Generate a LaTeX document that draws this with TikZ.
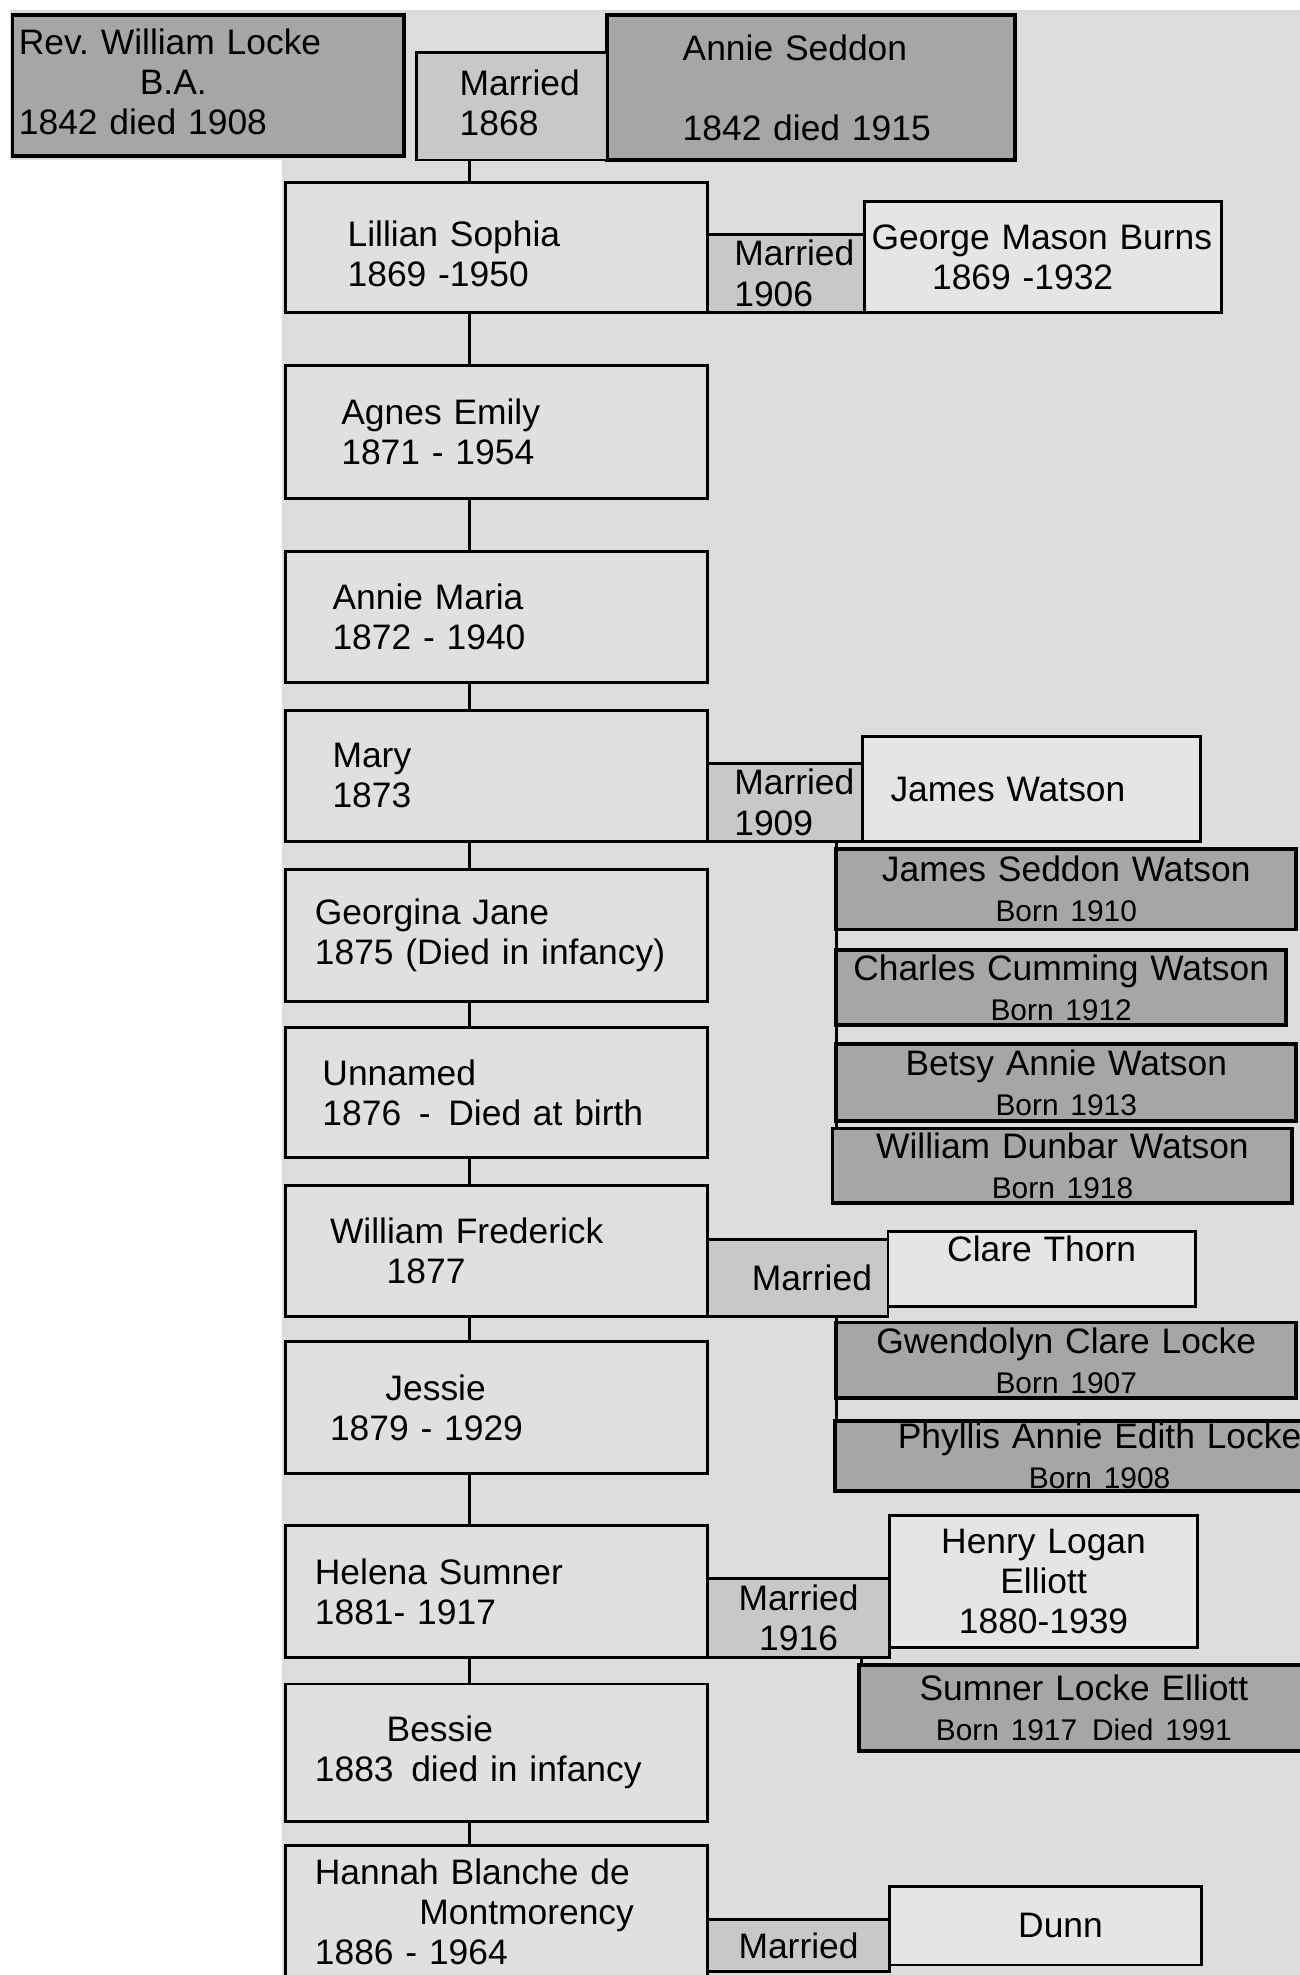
\documentclass[tikz,border=0pt]{standalone}
\usepackage{fontspec}
\setmainfont{Liberation Sans}
\usetikzlibrary{positioning}

\definecolor{paper}{HTML}{DCDCDC}
\definecolor{kidfill}{HTML}{E0E0E0}
\definecolor{spousefill}{HTML}{E5E5E5}
\definecolor{darkdot}{HTML}{A6A6A6}
\definecolor{lightdot}{HTML}{C8C8C8}

\newlength\pxunit
\setlength\pxunit{0.02cm}
\newcommand\lpad[1]{\hspace*{#1\pxunit}}
\newcommand\bornline[1]{{\fontsize{13.5}{15}\selectfont #1}}

\begin{document}
\begin{tikzpicture}[x=0.02cm, y=-0.02cm,
    box/.style={draw, line width=1.3pt, outer sep=0pt, inner xsep=0pt, inner ysep=0pt,
        anchor=north west, align=left, font=\fontsize{16}{18.1}\selectfont},
    wd/.style={text width=#1\pxunit},
    ht/.style={minimum height=#1\pxunit},
    kid/.style={box, fill=kidfill, wd=335},
    spouse/.style={box, fill=spousefill},
    married/.style={box, fill=lightdot},
    elder/.style={box, fill=darkdot, line width=1.7pt},
    grandkid/.style={box, fill=darkdot, line width=1.7pt, align=center},
    link/.style={line width=1.3pt}]
    \useasboundingbox (0,0) rectangle (1032,1568);
    % grey card behind the chart
    \fill[paper] (8,8) -- (1032,8) -- (1032,1568) -- (224,1568) -- (224,127) -- (8,127) -- cycle;

    % Parents
    \node[elder, wd=311, ht=112] (william) at (10,12)
        {\lpad{5}Rev.\ William Locke\\\lpad{101}B.A.\\\lpad{5}1842 died 1908\rule[-7\pxunit]{0pt}{7\pxunit}};
    \node[elder, wd=324, ht=115] (annie) at (482,12)
        {\lpad{60}Annie Seddon\\[32\pxunit]\lpad{60}1842 died 1915};
    \node[married, wd=151, ht=85, anchor=south east] (m1868) at (annie.south west)
        {\lpad{34}Married\\\lpad{34}1868\rule[-6\pxunit]{0pt}{6\pxunit}};

    % Children
    \node[kid, ht=103] (lillian) at (227,145)
        {\lpad{49}\rule{0pt}{31\pxunit}Lillian Sophia\\\lpad{49}1869 -1950};
    \node[kid, ht=106, below=0.84cm of lillian] (agnes) {\lpad{44}Agnes Emily\\\lpad{44}1871 - 1954};
    \node[kid, ht=104, below=0.84cm of agnes] (anniem) {\lpad{37}Annie Maria\\\lpad{37}1872 - 1940};
    \node[kid, ht=104, below=0.44cm of anniem] (mary) {\lpad{37}Mary\\\lpad{37}1873};
    \node[kid, ht=105, below=0.44cm of mary] (georgina) {\lpad{23}Georgina Jane\\\lpad{23}1875 (Died in infancy)};
    \node[kid, ht=103, below=0.42cm of georgina] (unnamed) {\lpad{29}Unnamed\\\lpad{29}1876\enspace-\enspace Died at birth};
    \node[kid, ht=104, below=0.44cm of unnamed] (wfred) {\lpad{35}William Frederick\\\lpad{80}1877};
    \node[kid, ht=105, below=0.40cm of wfred] (jessie) {\lpad{79}Jessie\\\lpad{35}1879 - 1929};
    \node[kid, ht=105, below=0.82cm of jessie] (helena) {\lpad{23}Helena Sumner\\\lpad{23}1881- 1917};
    \node[kid, ht=109, below=0.42cm of helena] (bessie) {\lpad{80}Bessie\\\lpad{23}1883\enspace died in infancy};
    \node[kid, ht=106, below=0.38cm of bessie] (hannah)
        {\lpad{23}Hannah Blanche de\\\lpad{106}Montmorency\\\lpad{23}1886 - 1964};

    \coordinate (spine) at (373,0);
    \foreach \a/\b in {m1868/lillian, lillian/agnes, agnes/anniem, anniem/mary, mary/georgina,
        georgina/unnamed, unnamed/wfred, wfred/jessie, jessie/helena, helena/bessie, bessie/hannah}
        \draw[link] (\a.south -| spine) -- (\b.north -| spine);

    % Lillian
    \node[married, wd=124, ht=62, anchor=south west] (m1906) at (lillian.south east) {\lpad{21}Married\\\lpad{21}1906};
    \node[spouse, wd=284, ht=88, anchor=south west] (george) at (m1906.south east)
        {\lpad{6}George Mason Burns\\\lpad{54}1869 -1932};

    % Mary
    \node[married, wd=123, ht=62, anchor=south west] (m1909) at (mary.south east) {\lpad{21}Married\\\lpad{21}1909};
    \node[spouse, wd=268, ht=83, anchor=south west] (jwatson) at (m1909.south east) {\lpad{22}James Watson};
    \node[grandkid, wd=365, ht=64] (jsw) at (664,674) {James Seddon Watson\\\bornline{Born 1910}};
    \node[grandkid, wd=357, ht=60] (ccw) at (664,754) {Charles Cumming Watson\\\bornline{Born 1912}};
    \node[grandkid, wd=365, ht=61] (baw) at (664,829) {Betsy Annie Watson\\\bornline{Born 1913}};
    \node[grandkid, wd=365, ht=59] (wdw) at (661,896) {William Dunbar Watson\\\bornline{Born 1918}};
    \coordinate (watsonline) at (664,0);
    \draw[link] (m1909.south -| watsonline) -- (wdw.north -| watsonline);

    % William Frederick
    \node[married, wd=143, ht=61, anchor=south west] (mwf) at (wfred.south east) {\lpad{35}Married};
    \node[spouse, wd=244, ht=59, align=center] (clare) at (705,978) {Clare Thorn\\\mbox{}};
    \node[grandkid, wd=365, ht=60] (gcl) at (664,1050) {Gwendolyn Clare Locke\\\bornline{Born 1907}};
    \node[grandkid, wd=420, ht=56] (pael) at (663,1128) {Phyllis Annie Edith Locke\\\bornline{Born 1908}};
    \coordinate (lockeline) at (664,0);
    \draw[link] (mwf.south -| lockeline) -- (pael.north -| lockeline);

    % Helena
    \node[married, wd=144, ht=63, anchor=south west, align=center] (m1916) at (helena.south east) {Married\\1916};
    \node[spouse, wd=245, ht=105, align=center] (henry) at (706,1203) {Henry Logan\\Elliott\\1880-1939};
    \node[grandkid, wd=357, ht=68] (sle) at (682,1322)
        {Sumner Locke Elliott\\\bornline{Born 1917\enspace Died 1991}};
    \coordinate (elliottline) at (684,0);
    \draw[link] (m1916.south -| elliottline) -- (sle.north -| elliottline);

    % Hannah
    \node[married, wd=144, ht=41, align=center] (mdunn) at (562,1524) {Married};
    \node[spouse, wd=248, ht=62, align=center] (dunn) at (706,1498) {\lpad{24}Dunn};
\end{tikzpicture}
\end{document}
